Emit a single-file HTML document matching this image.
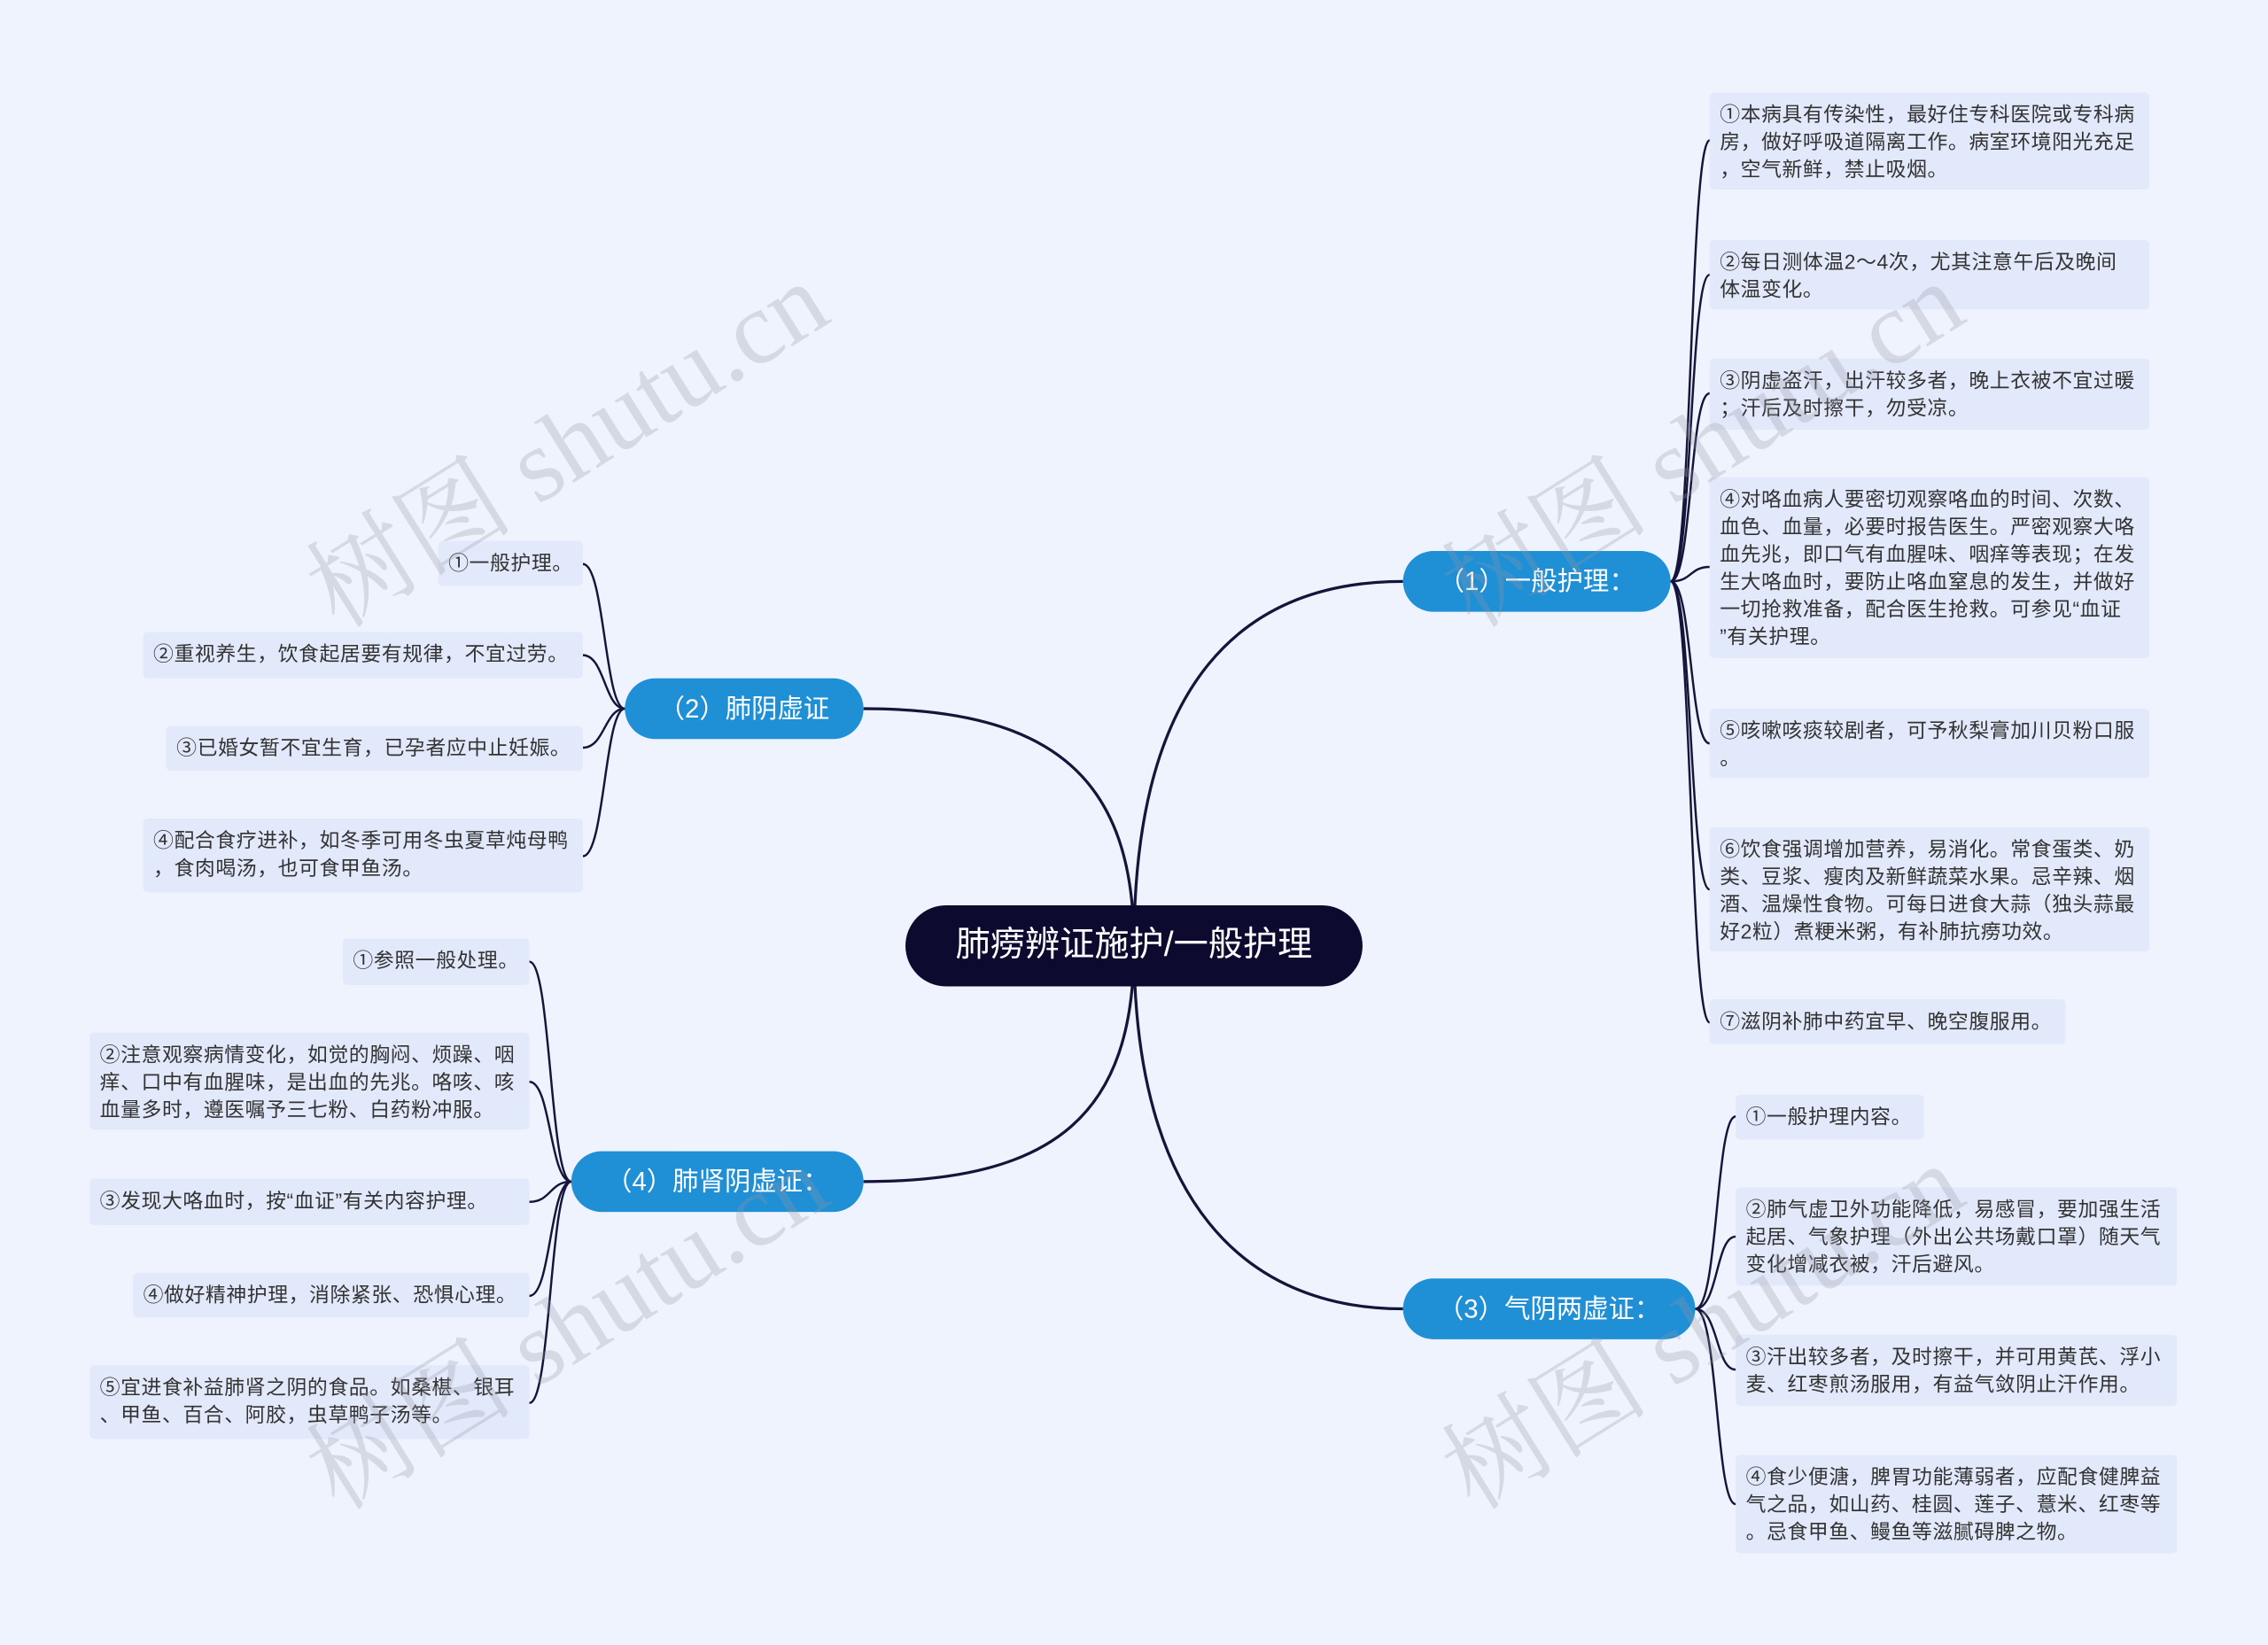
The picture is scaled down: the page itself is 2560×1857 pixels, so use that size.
<!DOCTYPE html>
<html><head><meta charset="utf-8">
<style>
html,body{margin:0;padding:0;width:2560px;height:1857px;overflow:hidden;background:#eef3fd;}
#s{position:absolute;left:0;top:0;width:1568px;height:1137px;transform:scale(1.63265);transform-origin:0 0;font-family:"Liberation Sans","Noto Sans CJK SC",sans-serif;}
.leaf{position:absolute;background:#e1e9fa;color:#333;font-size:14px;letter-spacing:0.35px;line-height:19px;padding:6px 7px;box-sizing:border-box;border-radius:3px;white-space:nowrap;}
.br{position:absolute;background:#1f8fd6;color:#fff;font-size:18px;border-radius:21px;height:42px;line-height:42px;text-align:center;}
.c{position:absolute;background:#0c0a2f;color:#fff;font-size:24px;border-radius:28px;left:626px;top:626px;width:316px;height:56px;line-height:56px;text-align:center;}
.wm{position:absolute;font-family:"Liberation Serif","Noto Serif CJK SC",serif;font-size:72px;color:rgba(150,150,160,0.28);transform:rotate(-32deg);transform-origin:0 0;white-space:nowrap;}
svg{position:absolute;left:0;top:0;}
</style></head><body><div id="s">
<svg width="1568" height="1137" fill="none">
<g stroke="#15143a" stroke-width="2">
<path d="M784,654 C784,470 860,402 970,402"/>
<path d="M784,654 C784,540 730,490 597,490"/>
<path d="M784,654 C784,830 860,905 970,905"/>
<path d="M784,654 C784,770 730,817 597,817"/>
</g>
<g stroke="#15143a" stroke-width="1.5">
<path d="M1155,402 C1170,402 1168,97 1182,97"/>
<path d="M1155,402 C1170,402 1168,190 1182,190"/>
<path d="M1155,402 C1170,402 1168,272 1182,272"/>
<path d="M1155,402 C1170,402 1168,392 1182,392"/>
<path d="M1155,402 C1170,402 1168,514 1182,514"/>
<path d="M1155,402 C1170,402 1168,615 1182,615"/>
<path d="M1155,402 C1170,402 1168,707 1182,707"/>
<path d="M1172,905 C1188,905 1186,772 1200,772"/>
<path d="M1172,905 C1188,905 1186,855 1200,855"/>
<path d="M1172,905 C1188,905 1186,947 1200,947"/>
<path d="M1172,905 C1188,905 1186,1040 1200,1040"/>
<path d="M432,490 C418,490 418,390 403,390"/>
<path d="M432,490 C418,490 418,453 403,453"/>
<path d="M432,490 C418,490 418,517 403,517"/>
<path d="M432,490 C418,490 418,592 403,592"/>
<path d="M395,817 C380,817 381,665 366,665"/>
<path d="M395,817 C380,817 381,748 366,748"/>
<path d="M395,817 C380,817 381,831 366,831"/>
<path d="M395,817 C380,817 381,896 366,896"/>
<path d="M395,817 C380,817 381,970 366,970"/>
</g></svg>

<div class="c">肺痨辨证施护/一般护理</div>
<div class="br" style="left:970px;top:381px;width:185px;">（1）一般护理：</div>
<div class="br" style="left:432px;top:469px;width:165px;">（2）肺阴虚证</div>
<div class="br" style="left:970px;top:884px;width:202px;">（3）气阴两虚证：</div>
<div class="br" style="left:395px;top:796px;width:202px;">（4）肺肾阴虚证：</div>

<div class="leaf" style="left:1182px;top:64px;width:304px;height:67px;">①本病具有传染性，最好住专科医院或专科病<br>房，做好呼吸道隔离工作。病室环境阳光充足<br>，空气新鲜，禁止吸烟。</div>
<div class="leaf" style="left:1182px;top:166px;width:304px;height:48px;">②每日测体温2～4次，尤其注意午后及晚间<br>体温变化。</div>
<div class="leaf" style="left:1182px;top:248px;width:304px;height:49px;">③阴虚盗汗，出汗较多者，晚上衣被不宜过暖<br>；汗后及时擦干，勿受凉。</div>
<div class="leaf" style="left:1182px;top:330px;width:304px;height:125px;">④对咯血病人要密切观察咯血的时间、次数、<br>血色、血量，必要时报告医生。严密观察大咯<br>血先兆，即口气有血腥味、咽痒等表现；在发<br>生大咯血时，要防止咯血窒息的发生，并做好<br>一切抢救准备，配合医生抢救。可参见“血证<br>”有关护理。</div>
<div class="leaf" style="left:1182px;top:490px;width:304px;height:48px;">⑤咳嗽咳痰较剧者，可予秋梨膏加川贝粉口服<br>。</div>
<div class="leaf" style="left:1182px;top:572px;width:304px;height:86px;">⑥饮食强调增加营养，易消化。常食蛋类、奶<br>类、豆浆、瘦肉及新鲜蔬菜水果。忌辛辣、烟<br>酒、温燥性食物。可每日进食大蒜（独头蒜最<br>好2粒）煮粳米粥，有补肺抗痨功效。</div>
<div class="leaf" style="left:1182px;top:691px;width:246px;height:31px;">⑦滋阴补肺中药宜早、晚空腹服用。</div>

<div class="leaf" style="left:1200px;top:757px;width:130px;height:31px;">①一般护理内容。</div>
<div class="leaf" style="left:1200px;top:821px;width:305px;height:68px;">②肺气虚卫外功能降低，易感冒，要加强生活<br>起居、气象护理（外出公共场戴口罩）随天气<br>变化增减衣被，汗后避风。</div>
<div class="leaf" style="left:1200px;top:923px;width:305px;height:49px;">③汗出较多者，及时擦干，并可用黄芪、浮小<br>麦、红枣煎汤服用，有益气敛阴止汗作用。</div>
<div class="leaf" style="left:1200px;top:1006px;width:305px;height:68px;">④食少便溏，脾胃功能薄弱者，应配食健脾益<br>气之品，如山药、桂圆、莲子、薏米、红枣等<br>。忌食甲鱼、鳗鱼等滋腻碍脾之物。</div>

<div class="leaf" style="left:303px;top:374px;width:100px;height:31px;">①一般护理。</div>
<div class="leaf" style="left:99px;top:437px;width:304px;height:32px;">②重视养生，饮食起居要有规律，不宜过劳。</div>
<div class="leaf" style="left:115px;top:502px;width:288px;height:31px;">③已婚女暂不宜生育，已孕者应中止妊娠。</div>
<div class="leaf" style="left:99px;top:566px;width:304px;height:51px;">④配合食疗进补，如冬季可用冬虫夏草炖母鸭<br>，食肉喝汤，也可食甲鱼汤。</div>

<div class="leaf" style="left:237px;top:649px;width:129px;height:32px;">①参照一般处理。</div>
<div class="leaf" style="left:62px;top:714px;width:304px;height:67px;">②注意观察病情变化，如觉的胸闷、烦躁、咽<br>痒、口中有血腥味，是出血的先兆。咯咳、咳<br>血量多时，遵医嘱予三七粉、白药粉冲服。</div>
<div class="leaf" style="left:62px;top:815px;width:304px;height:32px;">③发现大咯血时，按“血证”有关内容护理。</div>
<div class="leaf" style="left:92px;top:880px;width:274px;height:31px;">④做好精神护理，消除紧张、恐惧心理。</div>
<div class="leaf" style="left:62px;top:944px;width:304px;height:51px;">⑤宜进食补益肺肾之阴的食品。如桑椹、银耳<br>、甲鱼、百合、阿胶，虫草鸭子汤等。</div>

<div class="wm" style="left:190px;top:365px;">树图 shutu.cn</div>
<div class="wm" style="left:975px;top:365px;">树图 shutu.cn</div>
<div class="wm" style="left:190px;top:975px;">树图 shutu.cn</div>
<div class="wm" style="left:975px;top:975px;">树图 shutu.cn</div>
</div></body></html>
